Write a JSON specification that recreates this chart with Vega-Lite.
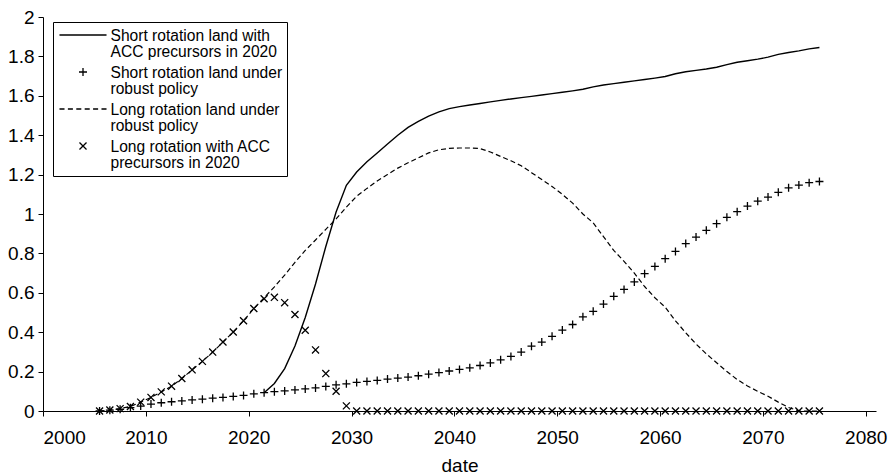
{
  "$schema": "https://vega.github.io/schema/vega-lite/v6.json",
  "width": 833,
  "height": 394,
  "autosize": {"type": "none"},
  "padding": {"left": 43, "top": 17, "right": 15, "bottom": 63},
  "background": "white",
  "config": {
    "font": "Liberation Sans",
    "view": {"stroke": null},
    "axis": {"grid": false, "domainColor": "black", "tickColor": "black", "labelColor": "black", "titleColor": "black", "labelFontSize": 19, "titleFontSize": 19, "titleFontWeight": "normal", "tickSize": 5, "domainWidth": 1, "tickWidth": 1}
  },
  "datasets": {
    "A": [
      {"date": 2021.5, "value": 0.093}, {"date": 2022.5, "value": 0.14}, {"date": 2023.5, "value": 0.215}, {"date": 2024.5, "value": 0.33}, {"date": 2025.5, "value": 0.475}, {"date": 2026.5, "value": 0.645}, {"date": 2027.5, "value": 0.835}, {"date": 2028.5, "value": 1.01}, {"date": 2029.5, "value": 1.146}, {"date": 2030.5, "value": 1.213},
      {"date": 2031.5, "value": 1.265}, {"date": 2032.5, "value": 1.31}, {"date": 2033.5, "value": 1.355}, {"date": 2034.5, "value": 1.4}, {"date": 2035.5, "value": 1.44}, {"date": 2036.5, "value": 1.47}, {"date": 2037.5, "value": 1.497}, {"date": 2038.5, "value": 1.518}, {"date": 2039.5, "value": 1.535}, {"date": 2040.5, "value": 1.545},
      {"date": 2041.5, "value": 1.553}, {"date": 2042.5, "value": 1.561}, {"date": 2043.5, "value": 1.569}, {"date": 2044.5, "value": 1.577}, {"date": 2045.5, "value": 1.584}, {"date": 2046.5, "value": 1.591}, {"date": 2047.5, "value": 1.597}, {"date": 2048.5, "value": 1.604}, {"date": 2049.5, "value": 1.611}, {"date": 2050.5, "value": 1.618},
      {"date": 2051.5, "value": 1.625}, {"date": 2052.5, "value": 1.633}, {"date": 2053.5, "value": 1.645}, {"date": 2054.5, "value": 1.655}, {"date": 2055.5, "value": 1.662}, {"date": 2056.5, "value": 1.669}, {"date": 2057.5, "value": 1.676}, {"date": 2058.5, "value": 1.683}, {"date": 2059.5, "value": 1.69}, {"date": 2060.5, "value": 1.698},
      {"date": 2061.5, "value": 1.712}, {"date": 2062.5, "value": 1.722}, {"date": 2063.5, "value": 1.729}, {"date": 2064.5, "value": 1.736}, {"date": 2065.5, "value": 1.745}, {"date": 2066.5, "value": 1.758}, {"date": 2067.5, "value": 1.77}, {"date": 2068.5, "value": 1.778}, {"date": 2069.5, "value": 1.786}, {"date": 2070.5, "value": 1.796},
      {"date": 2071.5, "value": 1.81}, {"date": 2072.5, "value": 1.82}, {"date": 2073.5, "value": 1.828}, {"date": 2074.5, "value": 1.838}, {"date": 2075.5, "value": 1.845}
    ],
    "B": [
      {"date": 2005.5, "value": 0.0}, {"date": 2006.5, "value": 0.004}, {"date": 2007.5, "value": 0.009}, {"date": 2008.5, "value": 0.017}, {"date": 2009.5, "value": 0.025}, {"date": 2010.5, "value": 0.035}, {"date": 2011.5, "value": 0.042}, {"date": 2012.5, "value": 0.047}, {"date": 2013.5, "value": 0.051}, {"date": 2014.5, "value": 0.056},
      {"date": 2015.5, "value": 0.06}, {"date": 2016.5, "value": 0.065}, {"date": 2017.5, "value": 0.069}, {"date": 2018.5, "value": 0.074}, {"date": 2019.5, "value": 0.079}, {"date": 2020.5, "value": 0.087}, {"date": 2021.5, "value": 0.093}, {"date": 2022.5, "value": 0.098}, {"date": 2023.5, "value": 0.102}, {"date": 2024.5, "value": 0.107},
      {"date": 2025.5, "value": 0.112}, {"date": 2026.5, "value": 0.117}, {"date": 2027.5, "value": 0.125}, {"date": 2028.5, "value": 0.133}, {"date": 2029.5, "value": 0.138}, {"date": 2030.5, "value": 0.145}, {"date": 2031.5, "value": 0.15}, {"date": 2032.5, "value": 0.155}, {"date": 2033.5, "value": 0.162}, {"date": 2034.5, "value": 0.167},
      {"date": 2035.5, "value": 0.172}, {"date": 2036.5, "value": 0.179}, {"date": 2037.5, "value": 0.187}, {"date": 2038.5, "value": 0.195}, {"date": 2039.5, "value": 0.203}, {"date": 2040.5, "value": 0.211}, {"date": 2041.5, "value": 0.219}, {"date": 2042.5, "value": 0.231}, {"date": 2043.5, "value": 0.244}, {"date": 2044.5, "value": 0.26},
      {"date": 2045.5, "value": 0.277}, {"date": 2046.5, "value": 0.299}, {"date": 2047.5, "value": 0.329}, {"date": 2048.5, "value": 0.35}, {"date": 2049.5, "value": 0.379}, {"date": 2050.5, "value": 0.411}, {"date": 2051.5, "value": 0.439}, {"date": 2052.5, "value": 0.478}, {"date": 2053.5, "value": 0.506}, {"date": 2054.5, "value": 0.543},
      {"date": 2055.5, "value": 0.582}, {"date": 2056.5, "value": 0.617}, {"date": 2057.5, "value": 0.655}, {"date": 2058.5, "value": 0.697}, {"date": 2059.5, "value": 0.734}, {"date": 2060.5, "value": 0.773}, {"date": 2061.5, "value": 0.81}, {"date": 2062.5, "value": 0.85}, {"date": 2063.5, "value": 0.883}, {"date": 2064.5, "value": 0.917},
      {"date": 2065.5, "value": 0.951}, {"date": 2066.5, "value": 0.983}, {"date": 2067.5, "value": 1.012}, {"date": 2068.5, "value": 1.04}, {"date": 2069.5, "value": 1.065}, {"date": 2070.5, "value": 1.086}, {"date": 2071.5, "value": 1.11}, {"date": 2072.5, "value": 1.133}, {"date": 2073.5, "value": 1.147}, {"date": 2074.5, "value": 1.159},
      {"date": 2075.5, "value": 1.165}
    ],
    "C": [
      {"date": 2005.5, "value": 0.0}, {"date": 2006.5, "value": 0.005}, {"date": 2007.5, "value": 0.012}, {"date": 2008.5, "value": 0.023}, {"date": 2009.5, "value": 0.045}, {"date": 2010.5, "value": 0.069}, {"date": 2011.5, "value": 0.097}, {"date": 2012.5, "value": 0.126}, {"date": 2013.5, "value": 0.165}, {"date": 2014.5, "value": 0.209},
      {"date": 2015.5, "value": 0.252}, {"date": 2016.5, "value": 0.299}, {"date": 2017.5, "value": 0.35}, {"date": 2018.5, "value": 0.401}, {"date": 2019.5, "value": 0.458}, {"date": 2020.5, "value": 0.52}, {"date": 2021.5, "value": 0.575}, {"date": 2022.5, "value": 0.63}, {"date": 2023.5, "value": 0.69}, {"date": 2024.5, "value": 0.755},
      {"date": 2025.5, "value": 0.815}, {"date": 2026.5, "value": 0.868}, {"date": 2027.5, "value": 0.922}, {"date": 2028.5, "value": 0.975}, {"date": 2029.5, "value": 1.035}, {"date": 2030.5, "value": 1.09}, {"date": 2031.5, "value": 1.13}, {"date": 2032.5, "value": 1.168}, {"date": 2033.5, "value": 1.2}, {"date": 2034.5, "value": 1.233},
      {"date": 2035.5, "value": 1.26}, {"date": 2036.5, "value": 1.285}, {"date": 2037.5, "value": 1.31}, {"date": 2038.5, "value": 1.326}, {"date": 2039.5, "value": 1.333}, {"date": 2040.5, "value": 1.335}, {"date": 2041.5, "value": 1.335}, {"date": 2042.5, "value": 1.332}, {"date": 2043.5, "value": 1.315}, {"date": 2044.5, "value": 1.292},
      {"date": 2045.5, "value": 1.27}, {"date": 2046.5, "value": 1.245}, {"date": 2047.5, "value": 1.21}, {"date": 2048.5, "value": 1.175}, {"date": 2049.5, "value": 1.14}, {"date": 2050.5, "value": 1.1}, {"date": 2051.5, "value": 1.055}, {"date": 2052.5, "value": 1.0}, {"date": 2053.5, "value": 0.955}, {"date": 2054.5, "value": 0.885},
      {"date": 2055.5, "value": 0.815}, {"date": 2056.5, "value": 0.76}, {"date": 2057.5, "value": 0.7}, {"date": 2058.5, "value": 0.632}, {"date": 2059.5, "value": 0.575}, {"date": 2060.5, "value": 0.527}, {"date": 2061.5, "value": 0.458}, {"date": 2062.5, "value": 0.397}, {"date": 2063.5, "value": 0.34}, {"date": 2064.5, "value": 0.29},
      {"date": 2065.5, "value": 0.245}, {"date": 2066.5, "value": 0.2}, {"date": 2067.5, "value": 0.16}, {"date": 2068.5, "value": 0.127}, {"date": 2069.5, "value": 0.1}, {"date": 2070.5, "value": 0.075}, {"date": 2071.5, "value": 0.045}, {"date": 2072.5, "value": 0.018}, {"date": 2073.5, "value": 0.0}, {"date": 2074.5, "value": 0.0},
      {"date": 2075.5, "value": 0.0}
    ],
    "D": [
      {"date": 2005.5, "value": 0.0}, {"date": 2006.5, "value": 0.005}, {"date": 2007.5, "value": 0.012}, {"date": 2008.5, "value": 0.023}, {"date": 2009.5, "value": 0.045}, {"date": 2010.5, "value": 0.069}, {"date": 2011.5, "value": 0.097}, {"date": 2012.5, "value": 0.126}, {"date": 2013.5, "value": 0.165}, {"date": 2014.5, "value": 0.209},
      {"date": 2015.5, "value": 0.252}, {"date": 2016.5, "value": 0.299}, {"date": 2017.5, "value": 0.35}, {"date": 2018.5, "value": 0.401}, {"date": 2019.5, "value": 0.458}, {"date": 2020.5, "value": 0.52}, {"date": 2021.5, "value": 0.57}, {"date": 2022.5, "value": 0.577}, {"date": 2023.5, "value": 0.55}, {"date": 2024.5, "value": 0.49},
      {"date": 2025.5, "value": 0.41}, {"date": 2026.5, "value": 0.31}, {"date": 2027.5, "value": 0.19}, {"date": 2028.5, "value": 0.1}, {"date": 2029.5, "value": 0.026}, {"date": 2030.5, "value": 0}, {"date": 2031.5, "value": 0}, {"date": 2032.5, "value": 0}, {"date": 2033.5, "value": 0}, {"date": 2034.5, "value": 0},
      {"date": 2035.5, "value": 0}, {"date": 2036.5, "value": 0}, {"date": 2037.5, "value": 0}, {"date": 2038.5, "value": 0}, {"date": 2039.5, "value": 0}, {"date": 2040.5, "value": 0}, {"date": 2041.5, "value": 0}, {"date": 2042.5, "value": 0}, {"date": 2043.5, "value": 0}, {"date": 2044.5, "value": 0},
      {"date": 2045.5, "value": 0}, {"date": 2046.5, "value": 0}, {"date": 2047.5, "value": 0}, {"date": 2048.5, "value": 0}, {"date": 2049.5, "value": 0}, {"date": 2050.5, "value": 0}, {"date": 2051.5, "value": 0}, {"date": 2052.5, "value": 0}, {"date": 2053.5, "value": 0}, {"date": 2054.5, "value": 0},
      {"date": 2055.5, "value": 0}, {"date": 2056.5, "value": 0}, {"date": 2057.5, "value": 0}, {"date": 2058.5, "value": 0}, {"date": 2059.5, "value": 0}, {"date": 2060.5, "value": 0}, {"date": 2061.5, "value": 0}, {"date": 2062.5, "value": 0}, {"date": 2063.5, "value": 0}, {"date": 2064.5, "value": 0},
      {"date": 2065.5, "value": 0}, {"date": 2066.5, "value": 0}, {"date": 2067.5, "value": 0}, {"date": 2068.5, "value": 0}, {"date": 2069.5, "value": 0}, {"date": 2070.5, "value": 0}, {"date": 2071.5, "value": 0}, {"date": 2072.5, "value": 0}, {"date": 2073.5, "value": 0}, {"date": 2074.5, "value": 0},
      {"date": 2075.5, "value": 0}
    ]
  },
  "encoding": {
    "x": {"field": "date", "type": "quantitative", "title": "date", "scale": {"domain": [2000, 2081], "nice": false, "zero": false}, "axis": {"values": [2000, 2010, 2020, 2030, 2040, 2050, 2060, 2070, 2080], "format": "d", "labelPadding": 12, "titlePadding": 9}},
    "y": {"field": "value", "type": "quantitative", "title": null, "scale": {"domain": [0, 2], "nice": false}, "axis": {"values": [0, 0.2, 0.4, 0.6, 0.8, 1, 1.2, 1.4, 1.6, 1.8, 2], "format": ".1~f", "labelPadding": 4}}
  },
  "layer": [
    {
      "data": {"name": "A"},
      "transform": [{"calculate": "'Short rotation land with ACC precursors in 2020'", "as": "series"}],
      "mark": {"type": "line", "color": "black", "strokeWidth": 1.4},
      "encoding": {}
    },
    {
      "data": {"name": "C"},
      "transform": [{"calculate": "'Long rotation land under robust policy'", "as": "series"}],
      "mark": {"type": "line", "color": "black", "strokeWidth": 1.2, "strokeDash": [5, 3]},
      "encoding": {}
    },
    {
      "data": {"name": "B"},
      "transform": [{"calculate": "'Short rotation land under robust policy'", "as": "series"}],
      "mark": {"type": "point", "filled": false, "stroke": "black", "strokeWidth": 1.3, "opacity": 1, "size": 256},
      "encoding": {"shape": {"field": "series", "type": "nominal"}}
    },
    {
      "data": {"name": "D"},
      "transform": [{"calculate": "'Long rotation with ACC precursors in 2020'", "as": "series"}],
      "mark": {"type": "point", "filled": false, "stroke": "black", "strokeWidth": 1.3, "opacity": 1, "size": 256},
      "encoding": {"shape": {"field": "series", "type": "nominal",
        "scale": {
          "domain": ["Short rotation land with ACC precursors in 2020", "Short rotation land under robust policy", "Long rotation land under robust policy", "Long rotation with ACC precursors in 2020"],
          "range": ["M-2.94,0L2.94,0", "M-0.5,0L0.5,0M0,-0.5L0,0.5", "M-2.94,0L-2.31,0M-1.89,0L-1.26,0M-0.84,0L-0.21,0M0.21,0L0.84,0M1.26,0L1.89,0M2.31,0L2.94,0", "M-0.44,-0.44L0.44,0.44M-0.44,0.44L0.44,-0.44"]
        },
        "legend": {
          "title": null,
          "orient": "none",
          "legendX": 10,
          "legendY": 5,
          "padding": 4,
          "strokeColor": "black",
          "fillColor": "white",
          "symbolSize": 256,
          "symbolOffset": 17,
          "symbolStrokeColor": "black",
          "symbolStrokeWidth": 1.3,
          "symbolFillColor": "transparent",
          "labelFontSize": 15.6,
          "labelColor": "black",
          "labelLimit": 300,
          "labelOffset": 18.5,
          "labelBaseline": "alphabetic",
          "rowPadding": 2,
          "encoding": {"labels": {"dy": {"value": 5.75}, "lineHeight": {"value": 16.5}}},
          "labelExpr": "datum.label == 'Short rotation land with ACC precursors in 2020' ? ['Short rotation land with', 'ACC precursors in 2020'] : datum.label == 'Short rotation land under robust policy' ? ['Short rotation land under', 'robust policy'] : datum.label == 'Long rotation land under robust policy' ? ['Long rotation land under', 'robust policy'] : ['Long rotation with ACC', 'precursors in 2020']"
        }
      }}
    }
  ]
}
